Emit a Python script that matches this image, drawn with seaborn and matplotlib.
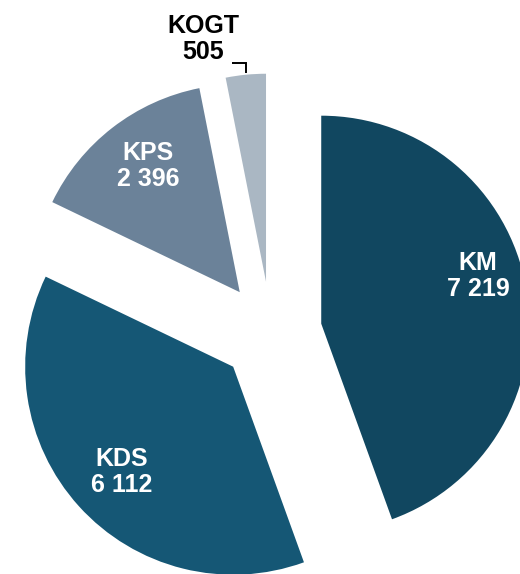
import numpy as np
import matplotlib
matplotlib.use("Agg")
import matplotlib.pyplot as plt
import seaborn as sns

categories = ["KM", "KDS", "KPS", "KOGT"]
values = [7219, 6112, 2396, 505]
colors = ["#114760", "#155775", "#6b8299", "#aab7c3"]

sns.set_theme(style="white")
plt.rcParams['font.family'] = ['Liberation Sans', 'DejaVu Sans']

W, H = 520, 574
fig = plt.figure(figsize=(W / 100, H / 100), dpi=100)
ax = fig.add_axes([0, 0, 1, 1])

cx, cy, R, EXP = 271, H - 332.5, 208, 51
wedges, _ = ax.pie(values, colors=colors, startangle=90, counterclock=False,
                   center=(cx, cy), radius=R, explode=[EXP] * len(values),
                   wedgeprops=dict(linewidth=0))
ax.set_xlim(0, W)
ax.set_ylim(0, H)
ax.set_aspect('equal')
ax.axis('off')

# label placement (style): distance from wedge apex in px, absolute angle in degrees
lab_dist = [164, 153, 156, 251]
lab_ang = [17, -136.6, 126.1, 104.5]
lab_col = ["white", "white", "white", "black"]

for w, c, v, d, a, col in zip(wedges, categories, values, lab_dist, lab_ang, lab_col):
    x0, y0 = w.center
    tx = x0 + d * np.cos(np.radians(a))
    ty = y0 + d * np.sin(np.radians(a))
    ax.text(tx, ty, f"{c}\n{v:,}".replace(",", " "), ha="center", va="center",
            color=col, fontsize=18, fontweight="bold", linespacing=1.1)

# leader line for the small slice
w = wedges[3]
x0, y0 = w.center
tm = np.radians((w.theta1 + w.theta2) / 2)
ex = x0 + 1.01 * R * np.cos(tm)
ey = y0 + 1.01 * R * np.sin(tm)
ax.plot([ex - 14, ex, ex], [ey + 10, ey + 10, ey], color="black", lw=1.4,
        solid_capstyle="butt", solid_joinstyle="miter")

fig.savefig("out.png", dpi=100)
